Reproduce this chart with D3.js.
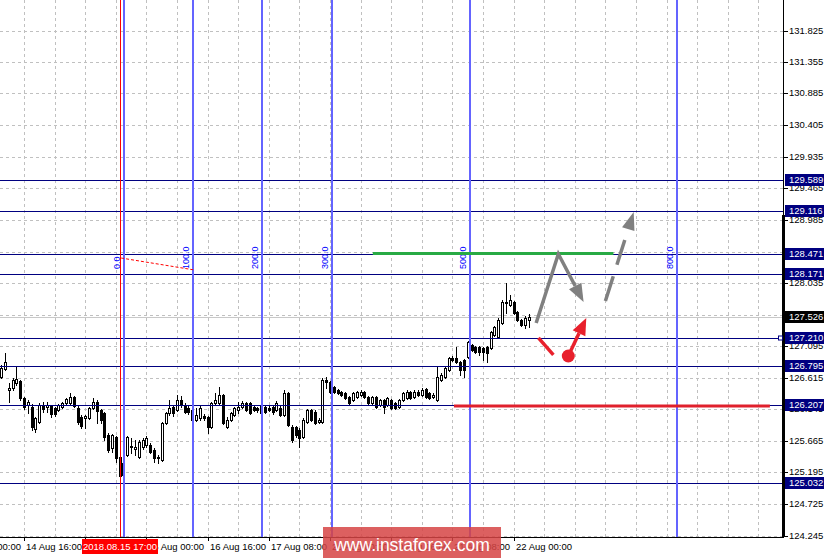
<!DOCTYPE html>
<html><head><meta charset="utf-8">
<script src="https://cdn.jsdelivr.net/npm/d3@7/dist/d3.min.js"></script>
<style>body{margin:0;background:#fff}svg{display:block}text{font-family:"Liberation Sans",Arial,sans-serif}</style>
</head><body><svg id="c" width="824" height="558"></svg>
<script>
// ---------------- DATA ----------------
const firstBar = -6; // bar index of first candle (bar 0 = 14 Aug 16:00, H1)
const open = [
126.627,126.747,126.432,126.462,126.537,126.567,126.312,126.207,126.177,125.847,
125.952,126.207,126.177,126.192,126.162,126.132,126.177,126.237,126.237,126.327,
126.162,126.027,126.012,126.012,126.162,126.252,126.132,126.087,125.757,125.562,
125.727,125.427,125.157,125.457,125.592,125.547,125.427,125.577,125.607,125.607,
125.532,125.412,125.382,125.937,126.087,126.177,126.132,126.282,126.207,126.162,
126.132,125.982,126.012,126.042,126.027,125.877,126.237,126.237,126.357,125.877,
125.982,126.057,126.132,126.177,126.237,126.237,126.177,126.162,126.192,126.177,
126.162,126.177,126.132,126.162,126.057,126.387,125.877,125.877,125.832,125.727,
125.952,126.132,126.102,125.952,125.952,126.582,126.552,126.477,126.432,126.402,
126.387,126.327,126.282,126.327,126.357,126.402,126.327,126.237,126.327,126.207,
126.282,126.207,126.282,126.237,126.177,126.282,126.312,126.402,126.327,126.402,
126.357,126.447,126.387,126.327,126.282,126.582,126.627,126.732,126.913,126.913,
126.853,126.883,126.928,127.108,127.078,127.078,127.063,127.078,127.063,127.258,
127.228,127.438,127.753,127.708,127.753,127.603,127.483,127.408,127.483];
const high = [
126.807,126.988,126.537,126.612,126.792,126.582,126.327,126.282,126.222,126.027,
126.237,126.252,126.252,126.207,126.177,126.222,126.252,126.312,126.387,126.342,
126.192,126.057,126.057,126.177,126.312,126.282,126.147,126.102,125.787,125.772,
125.742,125.442,125.352,125.742,125.712,125.682,125.682,125.712,125.742,125.637,
125.562,125.457,125.952,126.102,126.282,126.207,126.357,126.342,126.237,126.192,
126.162,126.162,126.192,126.072,126.042,126.252,126.387,126.477,126.372,126.027,
126.102,126.177,126.252,126.267,126.252,126.252,126.207,126.177,126.222,126.207,
126.192,126.192,126.267,126.192,126.432,126.402,125.907,125.892,125.862,126.012,
126.147,126.147,126.132,126.012,126.612,126.627,126.567,126.492,126.447,126.417,
126.402,126.342,126.402,126.417,126.432,126.417,126.342,126.342,126.342,126.297,
126.297,126.327,126.297,126.252,126.297,126.402,126.432,126.417,126.432,126.432,
126.462,126.462,126.402,126.387,126.777,126.687,126.792,126.928,126.943,127.078,
126.868,126.898,127.168,127.123,127.093,127.093,127.078,127.093,127.318,127.393,
127.513,127.783,128.038,127.858,127.768,127.618,127.498,127.543,127.573];
const low = [
126.612,126.732,126.252,126.432,126.507,126.282,126.147,126.087,125.832,125.802,
125.937,126.102,126.102,126.027,126.042,126.117,126.162,126.222,126.222,126.177,
125.922,125.862,125.862,125.997,126.147,125.937,125.937,125.682,125.502,125.502,
125.352,125.112,125.127,125.442,125.487,125.457,125.412,125.547,125.577,125.487,
125.352,125.337,125.367,125.922,126.057,126.042,126.117,126.177,126.087,126.072,
125.967,125.967,125.982,125.982,125.787,125.862,126.222,126.222,125.922,125.862,
125.967,126.042,126.087,126.162,126.117,126.072,126.117,126.102,126.072,126.087,
126.117,126.072,126.117,126.042,126.042,125.892,125.652,125.727,125.577,125.712,
125.937,125.967,125.922,125.937,125.937,126.462,126.387,126.387,126.372,126.342,
126.297,126.222,126.267,126.312,126.342,126.312,126.222,126.222,126.162,126.192,
126.087,126.192,126.147,126.147,126.162,126.267,126.297,126.297,126.312,126.342,
126.342,126.312,126.297,126.312,126.267,126.567,126.612,126.717,126.868,126.838,
126.657,126.627,126.913,127.018,126.988,126.958,126.883,126.853,127.048,127.243,
127.213,127.423,127.588,127.693,127.573,127.468,127.393,127.363,127.378];
const close = [
126.762,126.853,126.462,126.582,126.597,126.312,126.177,126.252,125.877,126.012,
126.207,126.147,126.207,126.072,126.072,126.207,126.237,126.297,126.327,126.192,
125.952,125.892,126.042,126.162,126.252,126.117,125.982,125.727,125.532,125.757,
125.412,125.142,125.337,125.727,125.577,125.577,125.652,125.682,125.712,125.502,
125.412,125.427,125.937,126.087,126.162,126.087,126.282,126.207,126.102,126.102,
125.982,126.057,126.162,126.012,125.877,126.237,126.282,126.357,125.937,125.982,
126.087,126.162,126.177,126.237,126.132,126.087,126.132,126.132,126.087,126.102,
126.132,126.102,126.237,126.057,126.387,125.907,125.682,125.757,125.712,125.982,
126.132,125.982,125.937,125.982,126.582,126.552,126.402,126.402,126.387,126.357,
126.312,126.237,126.387,126.402,126.402,126.327,126.237,126.327,126.177,126.282,
126.177,126.312,126.162,126.162,126.282,126.387,126.402,126.312,126.402,126.357,
126.432,126.327,126.312,126.357,126.627,126.657,126.762,126.913,126.883,126.853,
126.732,126.732,127.153,127.033,127.003,127.003,127.003,126.988,127.303,127.378,
127.483,127.753,127.738,127.783,127.588,127.483,127.408,127.513,127.528];

const priceTicks = [131.825,131.355,130.885,130.405,129.935,129.465,128.985,128.505,128.035,127.565,127.095,126.615,126.145,125.665,125.195,124.725,124.245];
const timeLabels = ["14 Aug 00:00","14 Aug 16:00","15 Aug 08:00","16 Aug 00:00","16 Aug 16:00","17 Aug 08:00","20 Aug 00:00","20 Aug 16:00","21 Aug 08:00","22 Aug 00:00"];
const timeLabelBars = [-16,0,16,32,48,64,80,96,112,128];
const gridStepBars = 8;

const levelPrices = [129.589,129.116,128.471,128.171,127.210,126.795,126.207,125.032];
const levelLabels = ["129.589","129.116","128.471","128.171","127.210","126.795","126.207","125.032"];
const bidPrice = 127.526, bidLabel = "127.526";

const fibLevels = [0,1,2,3,5,8];
const fibLabels = ["0.0","100.0","200.0","300.0","500.0","800.0"];
const fibAnchorBar = 26.2, fibUnitBars = 18.07;
const fibTrend = [[25.4,128.413],[44.6,128.233]];

const markerBar = 25, markerLabel = "2018.08.15 17:00";

const greenLevel = {from:91.2, to:154.1, price:128.48};
const redLevel = {from:112.4, to:195.0, price:126.19};
const grayArrow = [[133.9,127.438],[139.7,128.473],[146.3,127.753]];
const grayDashArrow = [[152.0,127.768],[159.4,129.104]];
const redDash = [[134.5,127.213],[138.4,126.958]];
const redDot = [142.3,126.942];
const redArrowTip = [147.0,127.513];

const watermark = "www.instaforex.com";

// ---------------- DRAW ----------------
const svg = d3.select("#c");
const plotR = 783, plotB = 537;
const x = d3.scaleLinear().domain([0,128]).range([24, 24+128*3.825]);
const y = d3.scaleLinear().domain([124.245,131.825]).range([535.7,30.7]);
const px = v => Math.round(x(v));
const py = v => Math.round(y(v));

svg.append("rect").attr("width",824).attr("height",558).attr("fill","#fff");
svg.append("defs").append("clipPath").attr("id","plot").append("rect").attr("width",plotR).attr("height",plotB);
const plot = svg.append("g").attr("clip-path","url(#plot)");

// grid
plot.selectAll(".hg").data(priceTicks).join("line")
  .attr("x1",0).attr("x2",plotR).attr("y1",d=>py(d)+0.5).attr("y2",d=>py(d)+0.5)
  .attr("stroke","#c0c0c0").attr("stroke-dasharray","3,3");
const gridBars = d3.range(-8, 220, gridStepBars).filter(b => x(b) > 0 && x(b) < plotR);
plot.selectAll(".vg").data(gridBars).join("line")
  .attr("x1",d=>px(d)+0.5).attr("x2",d=>px(d)+0.5).attr("y1",0).attr("y2",plotB)
  .attr("stroke","#c0c0c0").attr("stroke-dasharray","3,3");

// bid line
plot.append("line").attr("x1",0).attr("x2",plotR).attr("y1",py(bidPrice)+0.5).attr("y2",py(bidPrice)+0.5)
  .attr("stroke","#c8c8c8");

// candles
const bars = open.map((o,k)=>({i:firstBar+k,o,h:high[k],l:low[k],c:close[k]}));
const cg = plot.append("g");
bars.forEach(b=>{
  const c = px(b.i);
  cg.append("line").attr("x1",c+0.5).attr("x2",c+0.5).attr("y1",py(b.h)).attr("y2",py(b.l)+1).attr("stroke","#000");
  const top = py(Math.max(b.o,b.c)), bot = py(Math.min(b.o,b.c));
  cg.append("rect").attr("x",c-0.5).attr("y",top+0.5).attr("width",2).attr("height",Math.max(bot-top,0))
    .attr("fill", b.c>=b.o ? "#fff" : "#000").attr("stroke","#000");
});

// navy levels
plot.selectAll(".lv").data(levelPrices).join("line")
  .attr("x1",0).attr("x2",plotR).attr("y1",d=>py(d)+0.5).attr("y2",d=>py(d)+0.5).attr("stroke","#000080");

// fib time zones
const fibBars = fibLevels.map(l=>fibAnchorBar+l*fibUnitBars);
plot.selectAll(".fz").data(fibBars).join("line")
  .attr("x1",d=>px(d)).attr("x2",d=>px(d)).attr("y1",0).attr("y2",plotB)
  .attr("stroke","#6464ff").attr("stroke-width",2);
plot.selectAll(".fl").data(fibBars).join("text")
  .attr("transform",(d,k)=>`translate(${px(d)-4},269) rotate(-90)`)
  .attr("fill","#0000ff").attr("font-size",9).text((d,k)=>fibLabels[k]);
plot.append("line").attr("x1",x(fibTrend[0][0])).attr("y1",y(fibTrend[0][1]))
  .attr("x2",x(fibTrend[1][0])).attr("y2",y(fibTrend[1][1]))
  .attr("stroke","#ff0000").attr("stroke-dasharray","3,2");
// marker line
plot.append("line").attr("x1",px(markerBar)+0.5).attr("x2",px(markerBar)+0.5).attr("y1",0).attr("y2",plotB).attr("stroke","#ff0000");

// green / red levels
plot.append("line").attr("x1",x(greenLevel.from)).attr("x2",x(greenLevel.to)).attr("y1",y(greenLevel.price)).attr("y2",y(greenLevel.price))
  .attr("stroke","#28aa44").attr("stroke-width",3);
plot.append("line").attr("x1",x(redLevel.from)).attr("x2",x(redLevel.to)).attr("y1",y(redLevel.price)).attr("y2",y(redLevel.price))
  .attr("stroke","#e0202c").attr("stroke-width",3);

function arrow(g, pts, color, w, len, wid, dash){
  const P = pts.map(p=>[x(p[0]),y(p[1])]);
  const a = P[P.length-2], b = P[P.length-1];
  const ang = Math.atan2(b[1]-a[1], b[0]-a[0]);
  const base = [b[0]-len*Math.cos(ang), b[1]-len*Math.sin(ang)];
  const L = P.slice(0,-1).concat([base]);
  const ln = g.append("path").attr("d", d3.line()(L)).attr("fill","none").attr("stroke",color)
    .attr("stroke-width",w).attr("stroke-linejoin","miter");
  if(dash) ln.attr("stroke-dasharray",dash);
  const nx = -Math.sin(ang)*wid/2, ny = Math.cos(ang)*wid/2;
  g.append("polygon").attr("points",[b,[base[0]+nx,base[1]+ny],[base[0]-nx,base[1]-ny]].map(p=>p.join(",")).join(" "))
    .attr("fill",color);
}
arrow(plot, grayArrow, "#808080", 3.5, 18, 14);
arrow(plot, grayDashArrow, "#808080", 3.5, 18, 13, "26,12");
plot.append("line").attr("x1",x(redDash[0][0])).attr("y1",y(redDash[0][1])).attr("x2",x(redDash[1][0])).attr("y2",y(redDash[1][1]))
  .attr("stroke","#e8202c").attr("stroke-width",3.5);
arrow(plot, [redDot, redArrowTip], "#e8202c", 3.5, 17, 14);
plot.append("circle").attr("cx",x(redDot[0])).attr("cy",y(redDot[1])).attr("r",6.5).attr("fill","#e8202c");

// axes frame
svg.append("line").attr("x1",0).attr("x2",plotR+1).attr("y1",plotB+0.5).attr("y2",plotB+0.5).attr("stroke","#000");
svg.append("line").attr("x1",plotR+0.5).attr("x2",plotR+0.5).attr("y1",0).attr("y2",plotB+1).attr("stroke","#000");
svg.append("rect").attr("x",plotR-1).attr("y",215).attr("width",3).attr("height",plotB-215).attr("fill","#000");

// y axis
const ya = svg.append("g");
priceTicks.forEach(t=>{
  ya.append("line").attr("x1",plotR+1).attr("x2",plotR+5).attr("y1",py(t)+0.5).attr("y2",py(t)+0.5).attr("stroke","#000");
  ya.append("text").attr("x",789).attr("y",py(t)).attr("dy","0.36em").attr("font-size",9.5).attr("fill","#000").text(d3.format(".3f")(t));
});
levelPrices.forEach((p,k)=>{
  ya.append("rect").attr("x",785).attr("y",py(p)-6).attr("width",39).attr("height",12).attr("fill","#000080");
  ya.append("text").attr("x",789).attr("y",py(p)).attr("dy","0.36em").attr("font-size",9.5).attr("fill","#fff").text(levelLabels[k]);
});
ya.append("rect").attr("x",785).attr("y",py(bidPrice)-6).attr("width",39).attr("height",12).attr("fill","#000");
ya.append("text").attr("x",789).attr("y",py(bidPrice)).attr("dy","0.36em").attr("font-size",9.5).attr("fill","#fff").text(bidLabel);
svg.append("rect").attr("x",plotR-4.5).attr("y",py(127.210)-2).attr("width",4).attr("height",4).attr("fill","#fff").attr("stroke","#000080");

// x axis
const xa = svg.append("g");
timeLabelBars.forEach((b,k)=>{
  xa.append("line").attr("x1",px(b)+0.5).attr("x2",px(b)+0.5).attr("y1",plotB).attr("y2",plotB+4).attr("stroke","#000");
  xa.append("text").attr("x",px(b)+2).attr("y",550).attr("font-size",9.5).attr("fill","#000").text(timeLabels[k]);
});
const mx = px(markerBar);
xa.append("rect").attr("x",mx-38).attr("y",539).attr("width",76).attr("height",15).attr("fill","#ff0000");
xa.append("text").attr("x",mx).attr("y",550).attr("text-anchor","middle").attr("font-size",9.5).attr("fill","#fff").text(markerLabel);

// watermark
svg.append("rect").attr("x",323).attr("y",527).attr("width",178).attr("height",31).attr("fill","rgb(214,68,68)").attr("opacity",0.85);
svg.append("text").attr("x",412).attr("y",551).attr("text-anchor","middle").attr("font-size",17.5).attr("fill","#fff").text(watermark);
</script></body></html>
